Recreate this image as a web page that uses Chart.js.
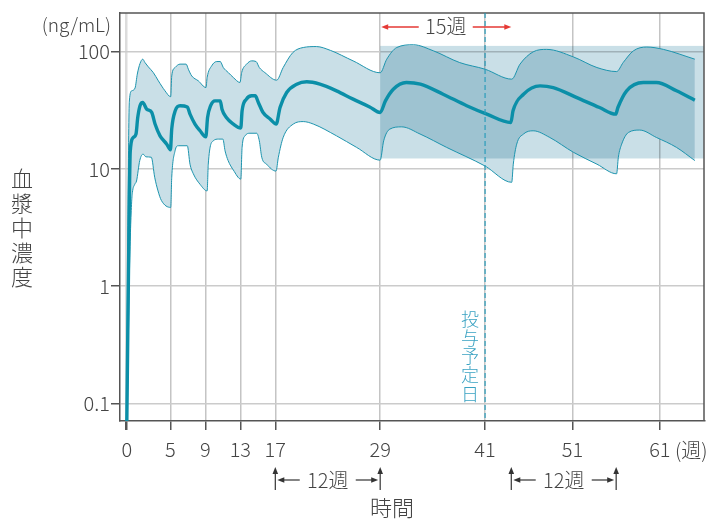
<!DOCTYPE html>
<html>
<head>
<meta charset="utf-8">
<script src="https://cdn.jsdelivr.net/npm/chart.js@4.4.0/dist/chart.umd.min.js"></script>
<style>
  html, body { margin: 0; padding: 0; background: #fff; }
</style>
</head>
<body>
<canvas id="chart" width="708" height="520"></canvas>
<script>
// x = weeks, y = ng/mL (log scale)
var xTicks = [0, 5, 9, 13, 17, 29, 41, 51, 61];
var yTicks = [0.1, 1, 10, 100];

// median (thick line)
var medianWeeks = [0, 0.18, 0.33, 0.4, 0.76, 1.06, 1.26, 1.52, 1.83, 2.29, 2.86, 3.24, 3.81, 4.58, 5.0,
    5.15, 5.55, 6.1, 6.93, 7.24, 7.81, 8.39, 9.05,
    9.25, 9.6, 10.1, 10.7, 10.9, 11.4, 12.2, 13.05,
    13.2, 13.7, 14.3, 14.7, 15.06, 15.6, 16.4, 17.1,
    17.54, 18.3, 19.45, 20.6, 22.1, 24.0, 25.9, 27.8, 29.0,
    29.6, 30.5, 32.0, 33.6, 36.2, 38.9, 41.2, 43.95,
    44.2, 45.4, 47.3, 48.8, 51.5, 54.1, 55.95,
    56.2, 57.2, 59.1, 60.6, 62.9, 65.0];
var medianValues = [0.06, 1, 8, 14, 18.6, 19.9, 27.5, 34.7, 37, 32.4, 30.4, 24.2, 19.2, 16.3, 14.6,
    22, 31.4, 34.7, 33.9, 29.4, 24.2, 21.2, 18.8,
    27.5, 34.7, 38.2, 38.2, 32.4, 27.5, 24.2, 22.4,
    31.4, 39.5, 42.2, 42.2, 37, 30.4, 26.7, 24.2,
    33.5, 45, 53, 55.5, 53, 46.5, 39.5, 33.9, 30.4,
    38.2, 48, 54.8, 53, 43.5, 34.7, 29.4, 24.9,
    31.4, 43.5, 51.3, 49.6, 40.7, 33.5, 29.4,
    33.5, 46.5, 54.8, 54.8, 46.5, 38.7];

// upper edge of the band
var upperWeeks = [0, 0.15, 0.3, 0.57, 0.95, 1.21, 1.52, 1.83, 2.09, 2.47, 3.04, 3.62, 4.38, 5.03,
    5.15, 5.53, 6.1, 6.8, 7.05, 7.44, 8.19, 9.07,
    9.2, 9.72, 10.3, 10.7, 11.05, 11.62, 12.2, 12.96,
    13.15, 13.72, 14.3, 14.8, 15.17, 15.8, 17.15,
    17.9, 19.0, 20.2, 21.7, 23.3, 25.9, 29.0,
    29.75, 30.9, 32.8, 35.1, 38.1, 41.0, 44.05,
    45.0, 46.5, 48.05, 51.1, 53.8, 56.05,
    56.8, 57.97, 59.5, 61.4, 65.0];
var upperValues = [0.08, 5, 38, 46.5, 49.1, 64.6, 79.5, 86.6, 81, 74.5, 66.6, 56.6, 46.5, 41.4,
    62.3, 73.5, 78.6, 78.6, 71.1, 62.3, 56.6, 49.6,
    60.4, 76, 82.7, 82.7, 73.5, 66.6, 60.4, 54.8,
    66.6, 78.6, 83.8, 82.7, 73.5, 66.6, 57.3,
    73.5, 98.6, 109, 111, 103, 83.8, 66.3,
    86.6, 109, 115, 102, 81, 71.1, 58.5,
    78.6, 100, 105, 90.6, 73.5, 67.9,
    81, 102, 110, 105, 86.6];

// lower edge of the band
var lowerWeeks = [0, 0.3, 0.55, 0.65, 0.92, 1.12, 1.49, 1.87, 2.2, 2.81, 3.2, 3.58, 3.96, 5.03,
    5.15, 5.53, 5.9, 6.93, 7.24, 7.62, 8.39, 9.2,
    9.33, 9.9, 10.5, 11.0, 11.25, 11.6, 12.2, 13.05,
    13.2, 13.54, 14.1, 14.87, 15.17, 15.45, 16.0, 17.08,
    17.35, 17.9, 19.06, 20.2, 21.35, 24.0, 26.3, 29.0,
    29.4, 30.1, 31.46, 33.56, 36.6, 41.0, 44.05,
    44.23, 44.62, 45.4, 46.5, 48.4, 51.1, 53.8, 56.05,
    56.25, 56.63, 57.4, 58.7, 60.6, 62.9, 65.0];
var lowerValues = [0.03, 1.2, 5, 6.3, 7.4, 7.9, 11.8, 13.4, 12.7, 12.6, 8.5, 6.5, 5.4, 4.7,
    8.5, 14.3, 15.8, 15.8, 11, 9.1, 7.4, 6.5,
    11, 17.4, 18, 18, 14.3, 11.8, 9.8, 8.2,
    15.3, 19.2, 20.2, 20.2, 17.4, 12.6, 11, 9.6,
    12.6, 18.6, 24.2, 25.4, 24.2, 19.2, 15.3, 11.9,
    17.4, 21.9, 22.9, 19.9, 15.3, 10.6, 7.7,
    11, 16.3, 19.9, 21.2, 18.6, 13.9, 11, 9.1,
    12.6, 16.3, 20.5, 21.5, 18.6, 15.3, 11.8];

// annotations
var plannedWeek = 41;
var boxStart = 29, boxLow = 12.3, boxHigh = 112.5;
var windowSpan = [29, 44];
var intervals = [[17, 29], [44, 56]];

var teal = '#0b8fa8';
var band = '#c9dfe7';
var font = '"Noto Sans CJK JP", "Noto Sans", sans-serif';

function toPoints(xs, ys) {
    var pts = [];
    for (var i = 0; i < xs.length; i++) {
        pts.push({ x: xs[i], y: ys[i] });
    }
    return pts;
}

function arrow(ctx, x1, y1, x2, y2, size) {
    var ang = Math.atan2(y2 - y1, x2 - x1);
    ctx.beginPath();
    ctx.moveTo(x1, y1);
    ctx.lineTo(x2 - Math.cos(ang) * size * 0.8, y2 - Math.sin(ang) * size * 0.8);
    ctx.stroke();
    ctx.beginPath();
    ctx.moveTo(x2, y2);
    ctx.lineTo(x2 - Math.cos(ang) * size - Math.sin(ang) * size * 0.4, y2 - Math.sin(ang) * size + Math.cos(ang) * size * 0.4);
    ctx.lineTo(x2 - Math.cos(ang) * size + Math.sin(ang) * size * 0.4, y2 - Math.sin(ang) * size - Math.cos(ang) * size * 0.4);
    ctx.closePath();
    ctx.fill();
}

function verticalText(ctx, text, x, y, step) {
    for (var i = 0; i < text.length; i++) {
        ctx.fillText(text[i], x, y + i * step);
    }
}

var extras = {
    id: 'extras',
    beforeDatasetsDraw: function (chart) {
        // shaded window, multiplied over the band
        var ctx = chart.ctx, xs = chart.scales.x, ys = chart.scales.y, a = chart.chartArea;
        var x0 = xs.getPixelForValue(boxStart);
        var y0 = ys.getPixelForValue(boxHigh), y1 = ys.getPixelForValue(boxLow);
        ctx.save();
        ctx.globalCompositeOperation = 'multiply';
        ctx.fillStyle = band;
        ctx.fillRect(x0, y0, a.right - x0, y1 - y0);
        ctx.restore();
    },
    afterDraw: function (chart) {
        var ctx = chart.ctx, xs = chart.scales.x, ys = chart.scales.y, a = chart.chartArea;
        ctx.save();

        // frame top / right
        ctx.strokeStyle = '#555';
        ctx.lineWidth = 1.5;
        ctx.beginPath();
        ctx.moveTo(a.left, a.top);
        ctx.lineTo(a.right, a.top);
        ctx.lineTo(a.right, a.bottom);
        ctx.stroke();

        // planned dosing day
        var xp = xs.getPixelForValue(plannedWeek);
        ctx.strokeStyle = '#2a9dbb';
        ctx.lineWidth = 1.2;
        ctx.setLineDash([5, 3]);
        ctx.beginPath();
        ctx.moveTo(xp, a.top);
        ctx.lineTo(xp, a.bottom);
        ctx.stroke();
        ctx.setLineDash([]);
        ctx.fillStyle = '#3aa2c2';
        ctx.font = '300 18px ' + font;
        ctx.textAlign = 'center';
        ctx.textBaseline = 'middle';
        verticalText(ctx, '投与予定日', xp - 15, 319, 18.8);

        // 15週 window
        var xa = xs.getPixelForValue(windowSpan[0]), xb = xs.getPixelForValue(windowSpan[1]);
        var xc = (xa + xb) / 2;
        ctx.fillStyle = '#444';
        ctx.font = '300 20px ' + font;
        ctx.fillText('15週', xc, 26);
        ctx.strokeStyle = '#e53935';
        ctx.fillStyle = '#e53935';
        ctx.lineWidth = 1.3;
        arrow(ctx, xc - 27, 27, xa + 1, 27, 7);
        arrow(ctx, xc + 27, 27, xb, 27, 7);

        // 12週 intervals under the axis
        ctx.strokeStyle = '#333';
        ctx.lineWidth = 1.2;
        intervals.forEach(function (iv) {
            var x1 = xs.getPixelForValue(iv[0]), x2 = xs.getPixelForValue(iv[1]);
            var cx = (x1 + x2) / 2;
            ctx.fillStyle = '#333';
            arrow(ctx, x1, 490, x1, 467, 7);
            arrow(ctx, x2, 490, x2, 467, 7);
            arrow(ctx, cx - 28, 480, x1 + 2, 480, 7);
            arrow(ctx, cx + 28, 480, x2 - 2, 480, 7);
            ctx.fillStyle = '#444';
            ctx.font = '300 20px ' + font;
            ctx.fillText('12週', cx, 480);
        });

        // axis titles and units
        ctx.fillStyle = '#444';
        ctx.font = '300 19px ' + font;
        ctx.textAlign = 'right';
        ctx.fillText('(ng/mL)', 111, 25);
        ctx.textAlign = 'left';
        ctx.font = '300 20px ' + font;
        ctx.fillText('(週)', 675, 450);
        ctx.textAlign = 'center';
        ctx.font = '300 22px ' + font;
        ctx.fillText('時間', 392, 508);
        verticalText(ctx, '血漿中濃度', 22, 179, 24.5);
        ctx.restore();
    }
};

var lineBase = {
    pointRadius: 0,
    cubicInterpolationMode: 'monotone',
    borderColor: teal
};

var ctx = document.getElementById('chart').getContext('2d');
window.myChart = new Chart(ctx, {
    type: 'line',
    data: {
        datasets: [
            Object.assign({}, lineBase, {
                label: 'median',
                data: toPoints(medianWeeks, medianValues),
                borderWidth: 3.4,
                fill: false
            }),
            Object.assign({}, lineBase, {
                label: 'upper',
                data: toPoints(upperWeeks, upperValues),
                borderWidth: 1,
                borderColor: '#1d94ae',
                backgroundColor: band,
                fill: '+1'
            }),
            Object.assign({}, lineBase, {
                label: 'lower',
                data: toPoints(lowerWeeks, lowerValues),
                borderWidth: 1,
                borderColor: '#1d94ae',
                fill: false
            })
        ]
    },
    options: {
        responsive: false,
        animation: false,
        layout: { padding: { top: 12, right: 4, left: 0, bottom: 0 } },
        plugins: {
            legend: { display: false },
            tooltip: { enabled: false },
            filler: { drawTime: 'beforeDatasetsDraw' }
        },
        scales: {
            x: {
                type: 'linear',
                min: -0.77,
                max: 66.05,
                bounds: 'data',
                afterBuildTicks: function (scale) {
                    scale.ticks = xTicks.map(function (v) { return { value: v }; });
                },
                afterFit: function (scale) { scale.height = 99; },
                ticks: {
                    autoSkip: false,
                    maxRotation: 0,
                    padding: 7,
                    color: '#444',
                    font: { family: font, size: 20, weight: 300 },
                    callback: function (v) { return String(v); }
                },
                grid: {
                    color: function (c) { return c.tick && c.tick.value === 0 ? '#dcdcdc' : '#c4c4c4'; },
                    lineWidth: function (c) { return c.tick && c.tick.value === 0 ? 2.5 : 1.5; },
                    tickLength: 9,
                    tickColor: '#555'
                },
                border: { color: '#555', width: 1.5 }
            },
            y: {
                type: 'logarithmic',
                min: 0.0706,
                max: 214.7,
                bounds: 'data',
                afterBuildTicks: function (scale) {
                    scale.ticks = yTicks.map(function (v) { return { value: v }; });
                },
                afterFit: function (scale) { scale.width = 120; },
                ticks: {
                    padding: 1,
                    color: '#444',
                    font: { family: font, size: 20, weight: 300 },
                    callback: function (v) { return String(v); }
                },
                grid: {
                    color: '#cbcbcb',
                    lineWidth: 1.5,
                    tickLength: 9,
                    tickColor: '#555'
                },
                border: { color: '#555', width: 1.5 }
            }
        }
    },
    plugins: [extras]
});
</script>
</body>
</html>
